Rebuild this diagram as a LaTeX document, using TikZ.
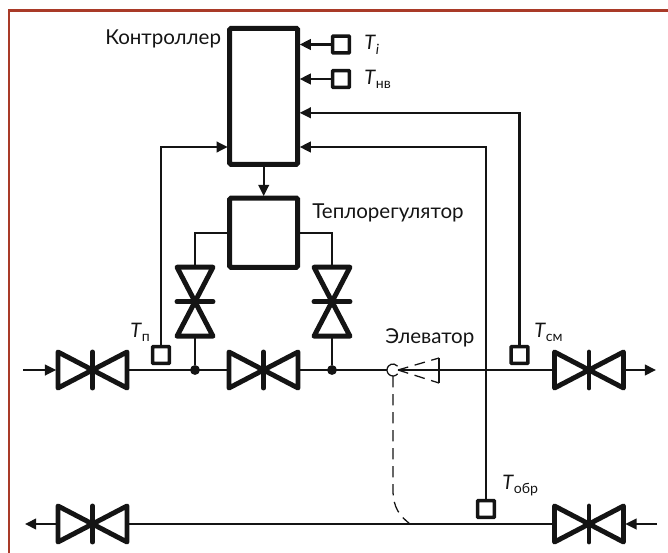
\documentclass[tikz,border=0pt]{standalone}
\usepackage{fontspec}
\setmainfont{Lato}
\usetikzlibrary{arrows.meta}
\definecolor{frameclr}{HTML}{A93A28}
\definecolor{ink}{HTML}{141414}
\tikzset{
  x=0.75pt,y=-0.75pt,
  pipe/.style={draw=ink,line width=1.6pt},
  flow/.style={pipe,-{Triangle[length=8.4pt,width=8pt]}},
  thin dash/.style={draw=ink,line width=0.95pt,dash pattern=on 8.5pt off 5pt},
  blockbox/.style={draw=ink,line width=3.7pt,rounded corners=1pt,inner sep=0pt,minimum width=51pt,outer sep=0pt},
  sensor/.style={draw=ink,fill=white,line width=2.7pt,rounded corners=0.6pt,inner sep=0pt,minimum size=12.6pt},
  valvespot/.style={inner sep=0pt,minimum width=51.5pt,minimum height=27pt,outer sep=0pt},
  valvespotv/.style={inner sep=0pt,minimum width=27pt,minimum height=51.5pt,outer sep=0pt},
  junction/.style={circle,fill=ink,inner sep=0pt,minimum size=7.4pt},
  lbl/.style={anchor=base west,inner sep=0pt,font=\fontsize{15.4pt}{18pt}\selectfont,text=ink},
  tlbl/.style={anchor=base west,inner sep=0pt,font=\fontsize{15pt}{18pt}\selectfont,text=ink},
  valveh/.pic={
    \draw[ink,line width=3.7pt,line join=round,line cap=round] (-34.5,-18) -- (34.5,18) -- (34.5,-18) -- (-34.5,18) -- cycle;
    \draw[ink,line width=3.7pt,line cap=round] (0,-18) -- (0,18);
  },
  valvev/.pic={
    \draw[ink,line width=3.7pt,line join=round,line cap=round] (-18,-34.5) -- (18,34.5) -- (-18,34.5) -- (18,-34.5) -- cycle;
    \draw[ink,line width=3.7pt,line cap=round] (-18,0) -- (18,0);
  },
}
\newcommand{\tsub}[1]{\textit{T}\raisebox{-3.2pt}{\fontsize{10.6pt}{12pt}\selectfont #1}}
\begin{document}
\begin{tikzpicture}
\useasboundingbox (0,0) rectangle (668,553);
% frame
\draw[frameclr,line width=1.9pt] (9,553) -- (9,10.5) -- (668,10.5);
% blocks
\node[blockbox,minimum height=102pt] (ctrl) at (263.7,96.3) {};
\node[blockbox,minimum height=52pt] (reg) at (263.7,232.7) {};
% sensors
\node[sensor] (ti) at (341,44.5) {};
\node[sensor] (tnv) at (341,79) {};
\node[sensor] (tp) at (161,355) {};
\node[sensor] (tsm) at (519.5,355) {};
\node[sensor] (tobr) at (486,509) {};
% valve spots
\node[valvespot] (v1) at (92.5,370) {};
\node[valvespot] (v2) at (263.5,370) {};
\node[valvespot] (v3) at (589,370) {};
\node[valvespot] (v4) at (92.5,524) {};
\node[valvespot] (v5) at (589,524) {};
\node[valvespotv] (vl) at (195,301.7) {};
\node[valvespotv] (vr) at (332,301.7) {};
% junctions, ends
\node[junction] (jl) at (195,370) {};
\node[junction] (jr) at (332,370) {};
\node[circle,inner sep=0pt,minimum size=9pt,outer sep=0pt] (ej) at (393,370) {};
\coordinate (nozzle) at (398,370);
\coordinate (cu) at (439,358);
\coordinate (cd) at (439,383);
\coordinate (in1) at (23,370);
\coordinate (out1) at (656,370);
\coordinate (out2) at (25,524);
\coordinate (in2) at (657,524);
\coordinate (merge) at (410,524);
% sensor and signal lines
\draw[flow] (ti) -- ([xshift=1.5pt]ctrl.east |- ti);
\draw[flow] (tnv) -- ([xshift=1.5pt]ctrl.east |- tnv);
\draw[flow] (tsm.north) |- ([xshift=1.5pt,yshift=-16.5*0.75pt]ctrl.east) ;
\draw[flow] (tobr.north) |- ([xshift=1.5pt]ctrl.east |- 0,147);
\draw[flow] (tp.north) |- ([xshift=-1.5pt]ctrl.west |- 0,147);
\draw[flow] (ctrl.south) -- ([yshift=1.5pt]reg.north);
% regulator to valves
\draw[pipe] (reg.west |- 0,233) -| (vl.north);
\draw[pipe] (reg.east |- 0,233) -| (vr.north);
\draw[pipe] (vl.south) -- (jl);
\draw[pipe] (vr.south) -- (jr);
% main pipes
\draw[flow] (in1) -- ([xshift=-1.5pt]v1.west);
\draw[pipe] (v1.east) -- (v2.west);
\draw[pipe] (v2.east) -- (ej.west);
\draw[pipe] (nozzle) -- (v3.west);
\draw[flow] ([xshift=1pt]v3.east) -- (out1);
\draw[pipe] (v5.west) -- (v4.east);
\draw[flow] (v4.west) -- (out2);
\draw[flow] (in2) -- ([xshift=1.5pt]v5.east);
% valves
\pic at (v1) {valveh};
\pic at (v2) {valveh};
\pic at (v3) {valveh};
\pic at (v4) {valveh};
\pic at (v5) {valveh};
\pic at (vl) {valvev};
\pic at (vr) {valvev};
% elevator
\draw[ink,line width=0.95pt] (ej.center) ++(40:6) arc (40:320:6);
\draw[thin dash,dash pattern=on 8pt off 5pt] (nozzle) -- (cu);
\draw[thin dash,dash pattern=on 8pt off 5pt] (nozzle) -- (cd);
\draw[ink,line width=0.95pt] (cu) -- (cd);
\draw[thin dash] (ej.south) -- (393,490) .. controls (393,508) and (400,516) .. (merge);
% labels
\node[lbl] (lc) at (105,45) {Контроллер};
\node[lbl] (lt) at (312,218) {Теплорегулятор};
\node[lbl] (le) at (385,343) {Элеватор};
\node[tlbl] (li) at (364,50) {\tsub{\textit{i}}};
\node[tlbl] (ln) at (364,84) {\tsub{нв}};
\node[tlbl] (lp) at (130,337) {\tsub{п}};
\node[tlbl] (ls) at (534,337) {\tsub{см}};
\node[tlbl] (lo) at (502,489) {\tsub{обр}};
\end{tikzpicture}
\end{document}
